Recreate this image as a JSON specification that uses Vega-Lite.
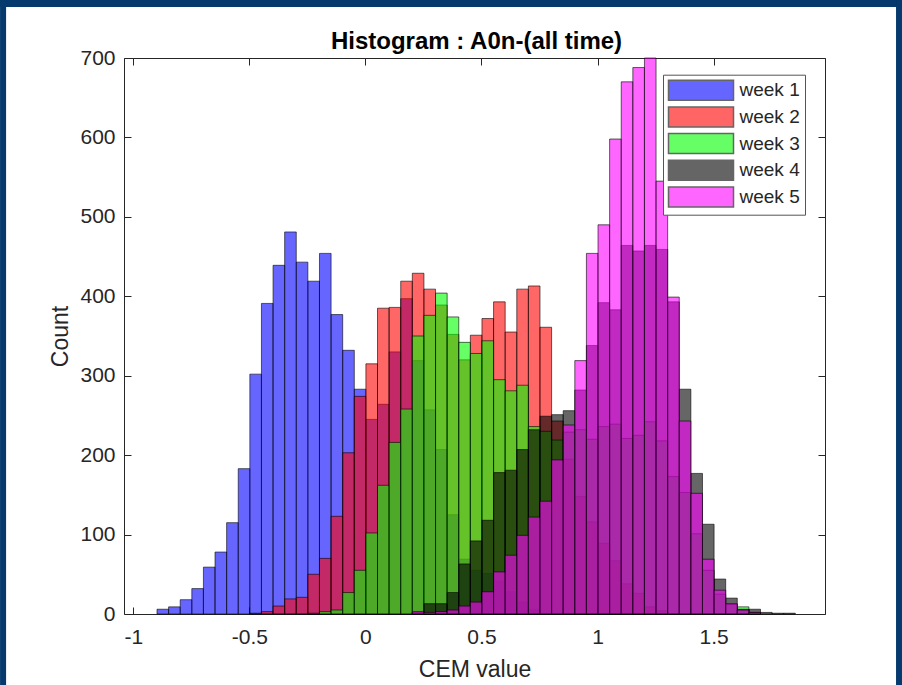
{
  "$schema": "https://vega.github.io/schema/vega-lite/v6.json",
  "width": 701,
  "height": 556,
  "autosize": {"type": "none"},
  "padding": {"left": 124, "top": 58, "right": 77, "bottom": 71},
  "background": "white",
  "title": {"text": "Histogram : A0n-(all time)", "font": "Liberation Sans", "fontSize": 24, "fontWeight": "bold", "color": "#000000", "anchor": "middle", "frame": "group", "baseline": "alphabetic", "offset": 0, "dy": 73, "dx": 2},
  "config": {
    "font": "Liberation Sans",
    "view": {"stroke": "#262626", "strokeWidth": 1},
    "axis": {"grid": false, "domain": false, "tickSize": -7, "tickColor": "#262626", "tickWidth": 1, "labelFont": "Liberation Sans", "labelFontSize": 21, "labelColor": "#262626", "titleFont": "Liberation Sans", "titleFontSize": 23, "titleColor": "#262626", "titleFontWeight": "normal", "labelFlush": false, "labelOverlap": false},
    "axisX": {"labelPadding": 19.5, "titlePadding": 11},
    "axisY": {"labelPadding": 16, "titlePadding": 7}
  },
  "datasets": {
    "hist": [
      {"week": "week 1", "bin": -0.9, "count": 6},
      {"week": "week 1", "bin": -0.85, "count": 9},
      {"week": "week 1", "bin": -0.8, "count": 18},
      {"week": "week 1", "bin": -0.75, "count": 32},
      {"week": "week 1", "bin": -0.7, "count": 59},
      {"week": "week 1", "bin": -0.65, "count": 78},
      {"week": "week 1", "bin": -0.6, "count": 115},
      {"week": "week 1", "bin": -0.55, "count": 183},
      {"week": "week 1", "bin": -0.5, "count": 302},
      {"week": "week 1", "bin": -0.45, "count": 391},
      {"week": "week 1", "bin": -0.4, "count": 439},
      {"week": "week 1", "bin": -0.35, "count": 481},
      {"week": "week 1", "bin": -0.3, "count": 443},
      {"week": "week 1", "bin": -0.25, "count": 419},
      {"week": "week 1", "bin": -0.2, "count": 454},
      {"week": "week 1", "bin": -0.15, "count": 377},
      {"week": "week 1", "bin": -0.1, "count": 332},
      {"week": "week 1", "bin": -0.05, "count": 283},
      {"week": "week 1", "bin": 0, "count": 245},
      {"week": "week 1", "bin": 0.05, "count": 264},
      {"week": "week 1", "bin": 0.1, "count": 330},
      {"week": "week 1", "bin": 0.15, "count": 397},
      {"week": "week 1", "bin": 0.2, "count": 319},
      {"week": "week 1", "bin": 0.25, "count": 257},
      {"week": "week 1", "bin": 0.3, "count": 207},
      {"week": "week 1", "bin": 0.35, "count": 125},
      {"week": "week 1", "bin": 0.4, "count": 69},
      {"week": "week 1", "bin": 0.45, "count": 55},
      {"week": "week 1", "bin": 0.5, "count": 51},
      {"week": "week 1", "bin": 0.55, "count": 41},
      {"week": "week 1", "bin": 0.6, "count": 28},
      {"week": "week 1", "bin": 0.65, "count": 15},
      {"week": "week 1", "bin": 0.7, "count": 6},
      {"week": "week 2", "bin": -0.5, "count": 1},
      {"week": "week 2", "bin": -0.45, "count": 3},
      {"week": "week 2", "bin": -0.4, "count": 10},
      {"week": "week 2", "bin": -0.35, "count": 19},
      {"week": "week 2", "bin": -0.3, "count": 21},
      {"week": "week 2", "bin": -0.25, "count": 50},
      {"week": "week 2", "bin": -0.2, "count": 70},
      {"week": "week 2", "bin": -0.15, "count": 123},
      {"week": "week 2", "bin": -0.1, "count": 203},
      {"week": "week 2", "bin": -0.05, "count": 274},
      {"week": "week 2", "bin": 0, "count": 315},
      {"week": "week 2", "bin": 0.05, "count": 385},
      {"week": "week 2", "bin": 0.1, "count": 386},
      {"week": "week 2", "bin": 0.15, "count": 419},
      {"week": "week 2", "bin": 0.2, "count": 429},
      {"week": "week 2", "bin": 0.25, "count": 409},
      {"week": "week 2", "bin": 0.3, "count": 389},
      {"week": "week 2", "bin": 0.35, "count": 352},
      {"week": "week 2", "bin": 0.4, "count": 320},
      {"week": "week 2", "bin": 0.45, "count": 351},
      {"week": "week 2", "bin": 0.5, "count": 372},
      {"week": "week 2", "bin": 0.55, "count": 393},
      {"week": "week 2", "bin": 0.6, "count": 355},
      {"week": "week 2", "bin": 0.65, "count": 409},
      {"week": "week 2", "bin": 0.7, "count": 413},
      {"week": "week 2", "bin": 0.75, "count": 361},
      {"week": "week 2", "bin": 0.8, "count": 243},
      {"week": "week 2", "bin": 0.85, "count": 195},
      {"week": "week 2", "bin": 0.9, "count": 148},
      {"week": "week 2", "bin": 0.95, "count": 116},
      {"week": "week 2", "bin": 1.0, "count": 89},
      {"week": "week 2", "bin": 1.05, "count": 67},
      {"week": "week 2", "bin": 1.1, "count": 38},
      {"week": "week 2", "bin": 1.15, "count": 26},
      {"week": "week 2", "bin": 1.2, "count": 9},
      {"week": "week 2", "bin": 1.25, "count": 4},
      {"week": "week 3", "bin": -0.25, "count": 1},
      {"week": "week 3", "bin": -0.2, "count": 3},
      {"week": "week 3", "bin": -0.15, "count": 5},
      {"week": "week 3", "bin": -0.1, "count": 27},
      {"week": "week 3", "bin": -0.05, "count": 55},
      {"week": "week 3", "bin": 0, "count": 102},
      {"week": "week 3", "bin": 0.05, "count": 162},
      {"week": "week 3", "bin": 0.1, "count": 216},
      {"week": "week 3", "bin": 0.15, "count": 258},
      {"week": "week 3", "bin": 0.2, "count": 350},
      {"week": "week 3", "bin": 0.25, "count": 376},
      {"week": "week 3", "bin": 0.3, "count": 404},
      {"week": "week 3", "bin": 0.35, "count": 374},
      {"week": "week 3", "bin": 0.4, "count": 342},
      {"week": "week 3", "bin": 0.45, "count": 328},
      {"week": "week 3", "bin": 0.5, "count": 344},
      {"week": "week 3", "bin": 0.55, "count": 295},
      {"week": "week 3", "bin": 0.6, "count": 281},
      {"week": "week 3", "bin": 0.65, "count": 288},
      {"week": "week 3", "bin": 0.7, "count": 236},
      {"week": "week 3", "bin": 0.75, "count": 230},
      {"week": "week 3", "bin": 0.8, "count": 219},
      {"week": "week 3", "bin": 0.85, "count": 229},
      {"week": "week 3", "bin": 0.9, "count": 232},
      {"week": "week 3", "bin": 0.95, "count": 220},
      {"week": "week 3", "bin": 1.0, "count": 236},
      {"week": "week 3", "bin": 1.05, "count": 239},
      {"week": "week 3", "bin": 1.1, "count": 221},
      {"week": "week 3", "bin": 1.15, "count": 225},
      {"week": "week 3", "bin": 1.2, "count": 242},
      {"week": "week 3", "bin": 1.25, "count": 218},
      {"week": "week 3", "bin": 1.3, "count": 173},
      {"week": "week 3", "bin": 1.35, "count": 153},
      {"week": "week 3", "bin": 1.4, "count": 101},
      {"week": "week 3", "bin": 1.45, "count": 55},
      {"week": "week 3", "bin": 1.5, "count": 25},
      {"week": "week 3", "bin": 1.55, "count": 12},
      {"week": "week 3", "bin": 1.6, "count": 9},
      {"week": "week 3", "bin": 1.65, "count": 2},
      {"week": "week 4", "bin": 0.2, "count": 2},
      {"week": "week 4", "bin": 0.25, "count": 13},
      {"week": "week 4", "bin": 0.3, "count": 13},
      {"week": "week 4", "bin": 0.35, "count": 27},
      {"week": "week 4", "bin": 0.4, "count": 63},
      {"week": "week 4", "bin": 0.45, "count": 92},
      {"week": "week 4", "bin": 0.5, "count": 118},
      {"week": "week 4", "bin": 0.55, "count": 178},
      {"week": "week 4", "bin": 0.6, "count": 181},
      {"week": "week 4", "bin": 0.65, "count": 207},
      {"week": "week 4", "bin": 0.7, "count": 232},
      {"week": "week 4", "bin": 0.75, "count": 249},
      {"week": "week 4", "bin": 0.8, "count": 251},
      {"week": "week 4", "bin": 0.85, "count": 256},
      {"week": "week 4", "bin": 0.9, "count": 282},
      {"week": "week 4", "bin": 0.95, "count": 338},
      {"week": "week 4", "bin": 1.0, "count": 392},
      {"week": "week 4", "bin": 1.05, "count": 383},
      {"week": "week 4", "bin": 1.1, "count": 464},
      {"week": "week 4", "bin": 1.15, "count": 457},
      {"week": "week 4", "bin": 1.2, "count": 464},
      {"week": "week 4", "bin": 1.25, "count": 459},
      {"week": "week 4", "bin": 1.3, "count": 393},
      {"week": "week 4", "bin": 1.35, "count": 283},
      {"week": "week 4", "bin": 1.4, "count": 177},
      {"week": "week 4", "bin": 1.45, "count": 113},
      {"week": "week 4", "bin": 1.5, "count": 44},
      {"week": "week 4", "bin": 1.55, "count": 20},
      {"week": "week 4", "bin": 1.6, "count": 6},
      {"week": "week 4", "bin": 1.65, "count": 6},
      {"week": "week 4", "bin": 1.7, "count": 2},
      {"week": "week 4", "bin": 1.75, "count": 1},
      {"week": "week 4", "bin": 1.8, "count": 1},
      {"week": "week 5", "bin": 0.2, "count": 3},
      {"week": "week 5", "bin": 0.25, "count": 2},
      {"week": "week 5", "bin": 0.3, "count": 3},
      {"week": "week 5", "bin": 0.35, "count": 5},
      {"week": "week 5", "bin": 0.4, "count": 10},
      {"week": "week 5", "bin": 0.45, "count": 15},
      {"week": "week 5", "bin": 0.5, "count": 28},
      {"week": "week 5", "bin": 0.55, "count": 53},
      {"week": "week 5", "bin": 0.6, "count": 74},
      {"week": "week 5", "bin": 0.65, "count": 99},
      {"week": "week 5", "bin": 0.7, "count": 122},
      {"week": "week 5", "bin": 0.75, "count": 142},
      {"week": "week 5", "bin": 0.8, "count": 194},
      {"week": "week 5", "bin": 0.85, "count": 238},
      {"week": "week 5", "bin": 0.9, "count": 319},
      {"week": "week 5", "bin": 0.95, "count": 454},
      {"week": "week 5", "bin": 1.0, "count": 490},
      {"week": "week 5", "bin": 1.05, "count": 598},
      {"week": "week 5", "bin": 1.1, "count": 670},
      {"week": "week 5", "bin": 1.15, "count": 688},
      {"week": "week 5", "bin": 1.2, "count": 700},
      {"week": "week 5", "bin": 1.25, "count": 545},
      {"week": "week 5", "bin": 1.3, "count": 399},
      {"week": "week 5", "bin": 1.35, "count": 243},
      {"week": "week 5", "bin": 1.4, "count": 152},
      {"week": "week 5", "bin": 1.45, "count": 69},
      {"week": "week 5", "bin": 1.5, "count": 30},
      {"week": "week 5", "bin": 1.55, "count": 13},
      {"week": "week 5", "bin": 1.6, "count": 5},
      {"week": "week 5", "bin": 1.65, "count": 2}
    ]
  },
  "layer": [
    {
      "data": {"values": [{}]},
      "mark": {"type": "rect", "color": "#063a6e", "clip": false},
      "encoding": {
        "x": {"datum": -1.574, "type": "quantitative", "axis": null},
        "x2": {"datum": 2.3117},
        "y": {"datum": 773.0, "type": "quantitative", "axis": null},
        "y2": {"datum": 764.2}
      }
    },
    {
      "data": {"values": [{}]},
      "mark": {"type": "rect", "color": "#063a6e", "clip": false},
      "encoding": {
        "x": {"datum": -1.574, "type": "quantitative", "axis": null},
        "x2": {"datum": -1.548},
        "y": {"datum": 773.0, "type": "quantitative", "axis": null},
        "y2": {"datum": -89.4}
      }
    },
    {
      "data": {"values": [{}]},
      "mark": {"type": "rect", "color": "#063a6e", "clip": false},
      "encoding": {
        "x": {"datum": 2.286, "type": "quantitative", "axis": null},
        "x2": {"datum": 2.3117},
        "y": {"datum": 773.0, "type": "quantitative", "axis": null},
        "y2": {"datum": -89.4}
      }
    },
    {
      "data": {"name": "hist"},
      "mark": {"type": "bar", "binSpacing": 0, "fillOpacity": 0.6, "stroke": "#000000", "strokeWidth": 0.7, "strokeOpacity": 0.85},
      "encoding": {
        "x": {"field": "bin", "type": "quantitative", "bin": {"binned": true, "step": 0.05},
              "scale": {"domain": [-1.04, 1.98], "nice": false, "zero": false},
              "axis": {"orient": "bottom", "title": "CEM value", "values": [-1, -0.5, 0, 0.5, 1, 1.5], "labelExpr": "toString(datum.value)"}},
        "y": {"field": "count", "type": "quantitative", "stack": null,
              "scale": {"domain": [0, 700], "nice": false},
              "axis": {"orient": "left", "title": "Count", "values": [0, 100, 200, 300, 400, 500, 600, 700], "labelExpr": "toString(datum.value)"}},
        "color": {"field": "week", "type": "nominal",
                  "scale": {"domain": ["week 1", "week 2", "week 3", "week 4", "week 5"], "range": ["#0000ff", "#ff0000", "#00ff00", "#000000", "#ff00ff"]},
                  "legend": {"title": null, "orient": "none", "legendX": 539, "legendY": 16.7,
                             "symbolType": "M-1,-1L5.5,-1L5.5,1L-1,1Z", "symbolSize": 400, "symbolOpacity": 0.6,
                             "symbolStrokeColor": "#000000", "symbolStrokeWidth": 1.5,
                             "labelOffset": 50, "labelFont": "Liberation Sans", "labelFontSize": 19, "labelColor": "#262626", "labelLimit": 200,
                             "rowPadding": 0.7, "padding": 4.5, "fillColor": "#ffffff", "strokeColor": "#555555"}}
      }
    },
    {
      "data": {"name": "hist"},
      "mark": {"type": "point", "opacity": 0, "size": 0},
      "encoding": {
        "x": {"field": "bin", "type": "quantitative", "axis": {"orient": "top", "labels": false, "title": null, "values": [-1, -0.5, 0, 0.5, 1, 1.5]}},
        "y": {"field": "count", "type": "quantitative", "axis": {"orient": "right", "labels": false, "title": null, "values": [0, 100, 200, 300, 400, 500, 600, 700]}}
      }
    }
  ]
}
